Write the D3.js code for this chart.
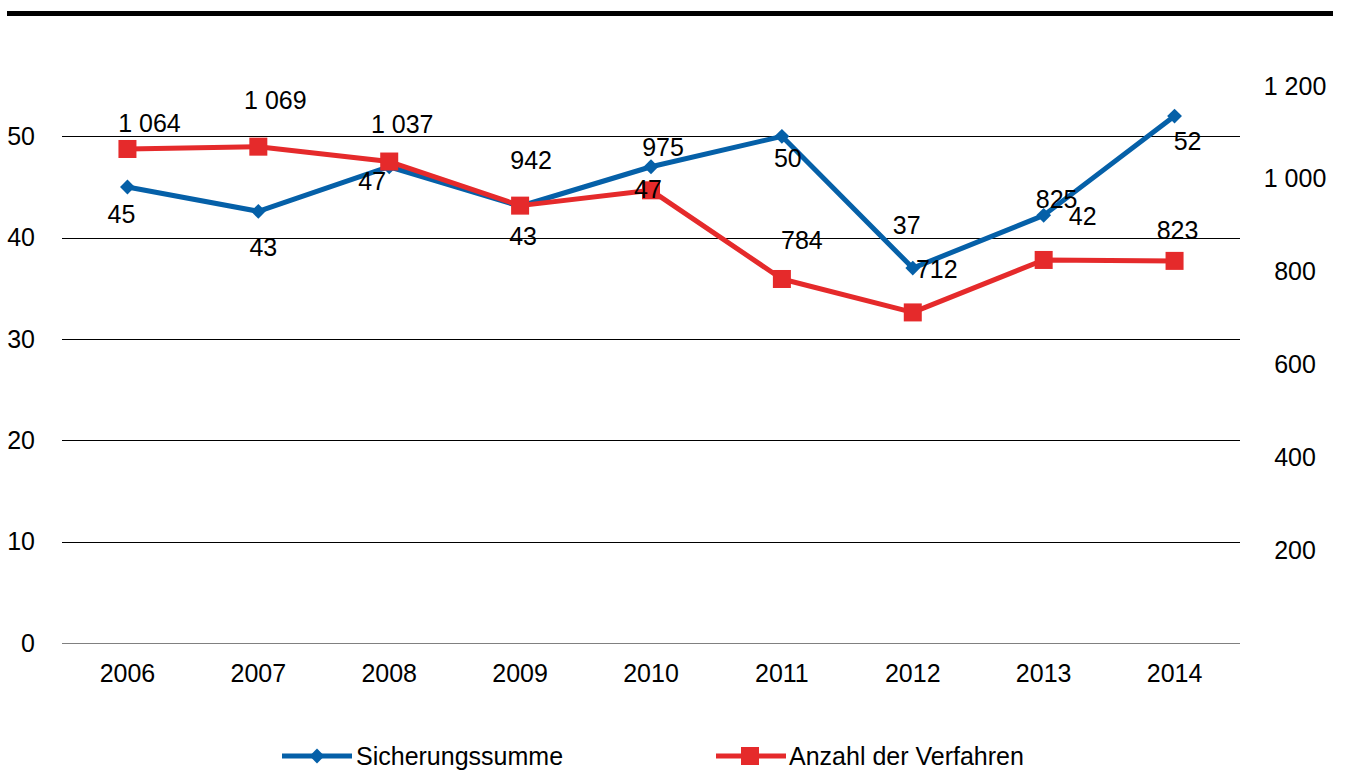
<!DOCTYPE html>
<html>
<head>
<meta charset="utf-8">
<script src="https://cdn.jsdelivr.net/npm/d3@7/dist/d3.min.js"></script>
<style>
  html, body { margin: 0; padding: 0; background: #fff; }
  svg { display: block; }
  text { font-family: "Liberation Sans", Arial, sans-serif; fill: #000; }
</style>
</head>
<body>
<svg id="chart" width="1347" height="780"></svg>
<script>
// ---- data ----
const years = ["2006", "2007", "2008", "2009", "2010", "2011", "2012", "2013", "2014"];
const sicherungssumme = [45, 42.6, 47, 43.1, 47, 50, 37, 42.2, 52];
const anzahlVerfahren = [1064, 1069, 1037, 942, 975, 784, 712, 825, 823];
const leftTicks = [0, 10, 20, 30, 40, 50];
const rightTicks = [200, 400, 600, 800, 1000, 1200];
const seriesNames = ["Sicherungssumme", "Anzahl der Verfahren"];

// manual label offsets (as placed in the original chart)
const blueLabelDx = [-6, 5, -17, 3, -3, 6, -6, 39, 13];
const blueLabelDy = [27, 36, 15, 30, 23, 22, -43, 1, 25];
const redLabelDx = [22, 17, 13, 11, 12, 20, 24, 13, 3];
const redLabelDy = [-26, -46, -37, -45, -43, -39, -43, -61, -31];

// ---- layout ----
const svg = d3.select("#chart");
const plotLeft = 62, plotRight = 1240, plotTop = 35, plotBottom = 643;
const blue = "#0560A8", red = "#E52A2B";
const fs = 25;

const locale = d3.formatLocale({ decimal: ",", thousands: " ", grouping: [3], currency: ["", "€"] });
const fmt = locale.format(",.0f");

const x = d3.scaleBand().domain(years).range([plotLeft, plotRight]).padding(0);
const cx = d => x(d) + x.bandwidth() / 2;
const yL = d3.scaleLinear().domain([0, 60]).range([plotBottom, plotTop]);
const yR = d3.scaleLinear().domain([0, 1309.5]).range([plotBottom, plotTop]);

// top bar
svg.append("rect").attr("x", 7).attr("y", 11).attr("width", 1326).attr("height", 5).attr("fill", "#000");

// gridlines
svg.append("g").selectAll("line").data(leftTicks).join("line")
  .attr("x1", plotLeft).attr("x2", plotRight)
  .attr("y1", d => Math.round(yL(d)) + 0.5).attr("y2", d => Math.round(yL(d)) + 0.5)
  .attr("stroke", d => d === 0 ? "#808080" : "#000").attr("stroke-width", 1);

// left axis labels
svg.append("g").selectAll("text").data(leftTicks).join("text")
  .attr("x", 35).attr("y", d => yL(d)).attr("dy", "0.35em")
  .attr("text-anchor", "end").attr("font-size", fs).text(d => d);

// right axis labels
svg.append("g").selectAll("text").data(rightTicks).join("text")
  .attr("x", 1295).attr("y", d => yR(d)).attr("dy", "0.35em")
  .attr("text-anchor", "middle").attr("font-size", fs).text(d => fmt(d));

// x axis labels
svg.append("g").selectAll("text").data(years).join("text")
  .attr("x", d => cx(d)).attr("y", 673).attr("dy", "0.35em")
  .attr("text-anchor", "middle").attr("font-size", fs).text(d => d);

const blueData = years.map((y, i) => ({ year: y, v: sicherungssumme[i], i }));
const redData = years.map((y, i) => ({ year: y, v: anzahlVerfahren[i], i }));

// blue series
svg.append("path").datum(blueData)
  .attr("d", d3.line().x(d => cx(d.year)).y(d => yL(d.v)))
  .attr("fill", "none").attr("stroke", blue).attr("stroke-width", 5).attr("stroke-linejoin", "round");
const diamond = d3.symbol().type(d3.symbolDiamond2).size(140);
svg.append("g").selectAll("path").data(blueData).join("path")
  .attr("d", diamond)
  .attr("transform", d => `translate(${cx(d.year)},${yL(d.v)})`)
  .attr("fill", blue);

// red series
svg.append("path").datum(redData)
  .attr("d", d3.line().x(d => cx(d.year)).y(d => yR(d.v)))
  .attr("fill", "none").attr("stroke", red).attr("stroke-width", 5).attr("stroke-linejoin", "round");
svg.append("g").selectAll("rect").data(redData).join("rect")
  .attr("x", d => cx(d.year) - 9).attr("y", d => yR(d.v) - 9)
  .attr("width", 18).attr("height", 18).attr("fill", red);

// data labels
svg.append("g").selectAll("text").data(blueData).join("text")
  .attr("x", d => cx(d.year) + blueLabelDx[d.i]).attr("y", d => yL(d.v) + blueLabelDy[d.i]).attr("dy", "0.35em")
  .attr("text-anchor", "middle").attr("font-size", fs).text(d => fmt(d.v));
svg.append("g").selectAll("text").data(redData).join("text")
  .attr("x", d => cx(d.year) + redLabelDx[d.i]).attr("y", d => yR(d.v) + redLabelDy[d.i]).attr("dy", "0.35em")
  .attr("text-anchor", "middle").attr("font-size", fs).text(d => fmt(d.v));

// legend
const lg = svg.append("g");
lg.append("line").attr("x1", 282).attr("x2", 352).attr("y1", 756).attr("y2", 756).attr("stroke", blue).attr("stroke-width", 5);
lg.append("path").attr("d", diamond).attr("transform", "translate(317,756)").attr("fill", blue);
lg.append("text").attr("x", 356).attr("y", 756).attr("dy", "0.35em").attr("font-size", fs).text(seriesNames[0]);
lg.append("line").attr("x1", 716).attr("x2", 786).attr("y1", 756).attr("y2", 756).attr("stroke", red).attr("stroke-width", 5);
lg.append("rect").attr("x", 741).attr("y", 747).attr("width", 18).attr("height", 18).attr("fill", red);
lg.append("text").attr("x", 789).attr("y", 756).attr("dy", "0.35em").attr("font-size", fs).text(seriesNames[1]);
</script>
</body>
</html>
